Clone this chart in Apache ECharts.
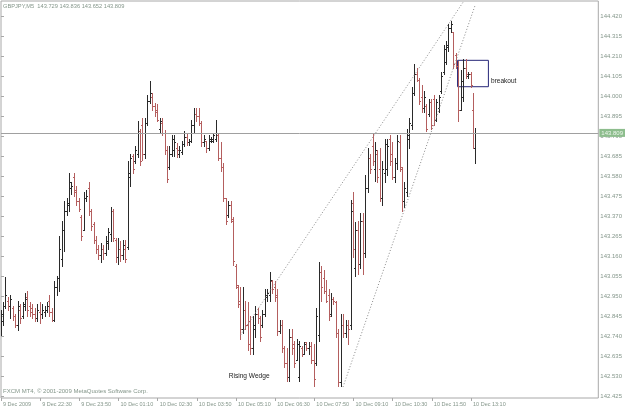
<!DOCTYPE html>
<html>
<head>
<meta charset="utf-8">
<script src="https://cdn.jsdelivr.net/npm/echarts@6/dist/echarts.min.js"></script>
<style>
html,body{margin:0;padding:0;background:#fff;}
#chart{width:625px;height:409px;}
</style>
</head>
<body>
<div id="chart"></div>
<script>
// ---- data (GBPJPY, M5) ----
const symbolTitle = "GBPJPY,M5  143.729 143.836 143.652 143.809";
const copyright = "FXCM MT4, \u00A9 2001-2009 MetaQuotes Software Corp.";
const tickLabels = ["9 Dec 2009","9 Dec 22:30","9 Dec 23:50","10 Dec 01:10","10 Dec 02:30","10 Dec 03:50","10 Dec 05:10","10 Dec 06:30","10 Dec 07:50","10 Dec 09:10","10 Dec 10:30","10 Dec 11:50","10 Dec 13:10"];
const tickIndex = [0,16,32,48,64,80,96,112,128,144,160,176,192];
const yTicks = [144.420,144.315,144.210,144.105,144.000,143.895,143.790,143.685,143.580,143.475,143.370,143.265,143.160,143.055,142.950,142.845,142.740,142.635,142.530,142.425];
const bidPrice = 143.809;

const open = [
142.77,142.82,142.90,142.93,142.90,142.89,142.85,142.80,142.88,142.85,
142.90,142.95,142.90,142.89,142.86,142.84,142.87,142.86,142.87,142.88,
142.93,142.87,142.83,143.00,143.05,143.15,143.30,143.40,143.43,143.52,
143.58,143.51,143.45,143.37,143.30,143.47,143.52,143.40,143.33,143.25,
143.20,143.17,143.20,143.18,143.23,143.28,143.40,143.25,143.16,143.20,
143.17,143.20,143.21,143.58,143.69,143.66,143.70,143.82,143.85,143.70,
143.86,143.98,144.00,143.95,143.93,143.83,143.86,143.81,143.72,143.63,
143.70,143.72,143.73,143.70,143.71,143.75,143.79,143.76,143.77,143.85,
143.91,143.90,143.86,143.76,143.77,143.73,143.77,143.77,143.78,143.80,
143.68,143.63,143.47,143.38,143.43,143.35,143.11,143.00,142.93,142.78,
142.88,142.80,142.82,142.68,142.78,142.86,142.84,142.80,142.86,142.95,
142.96,143.03,143.00,142.96,142.77,142.80,142.68,142.60,142.53,142.74,
142.70,142.62,142.53,142.68,142.65,142.71,142.68,142.69,142.62,142.60,
142.75,143.08,143.05,142.98,142.96,142.86,142.94,142.92,142.76,142.50,
142.80,142.76,142.80,142.80,143.44,143.10,143.30,143.12,143.35,143.18,
143.52,143.68,143.74,143.62,143.70,143.62,143.47,143.60,143.62,143.78,
143.70,143.58,143.65,143.76,143.62,143.45,143.50,143.78,143.85,144.02,
144.12,144.09,144.00,143.94,143.95,143.91,143.97,143.99,143.88,143.94,
144.03,144.13,144.18,144.26,144.36,144.34,144.22,144.16,143.93,144.00,
144.15,144.11,144.12,143.93,143.729];
const high = [
142.88,142.92,143.055,142.95,142.96,142.90,142.86,142.93,142.91,142.92,
142.97,142.98,142.92,142.91,142.89,142.91,142.92,142.91,142.90,142.92,
142.96,142.89,143.03,143.06,143.27,143.35,143.45,143.47,143.60,143.55,
143.60,143.53,143.47,143.38,143.50,143.51,143.55,143.41,143.34,143.27,
143.22,143.23,143.22,143.27,143.31,143.42,143.41,143.26,143.26,143.24,
143.25,143.25,143.66,143.70,143.70,143.74,143.87,143.83,143.89,143.89,
144.01,144.08,144.02,143.965,143.96,143.89,143.89,143.825,143.74,143.74,
143.80,143.80,143.755,143.74,143.765,143.82,143.81,143.78,143.88,143.94,
143.94,143.94,143.87,143.80,143.77,143.80,143.79,143.81,143.88,143.81,
143.76,143.65,143.47,143.45,143.45,143.37,143.12,143.01,143.00,143.00,
142.93,142.92,142.85,142.85,142.90,142.89,142.85,142.88,142.99,142.99,
143.08,143.04,143.03,142.99,142.83,142.83,142.69,142.68,142.78,142.78,
142.72,142.73,142.72,142.69,142.71,142.71,142.71,142.71,142.70,142.89,
143.13,143.11,143.09,143.04,142.99,142.97,142.95,142.93,142.78,142.86,
142.86,142.83,142.83,143.46,143.50,143.34,143.35,143.39,143.39,143.59,
143.73,143.70,143.81,143.76,143.72,143.73,143.66,143.78,143.78,143.80,
143.76,143.68,143.80,143.80,143.63,143.55,143.83,143.89,144.05,144.17,
144.15,144.10,144.06,144.03,143.96,143.99,143.99,144.01,143.99,144.01,
144.13,144.27,144.29,144.38,144.40,144.34,144.23,144.19,144.14,144.20,
144.20,144.13,144.13,144.02,143.836];
const low = [
142.75,142.80,142.89,142.88,142.84,142.83,142.79,142.775,142.81,142.84,
142.88,142.85,142.85,142.84,142.82,142.82,142.81,142.84,142.85,142.87,
142.85,142.82,142.82,142.96,142.98,143.11,143.19,143.38,143.40,143.49,
143.48,143.43,143.40,143.25,143.30,143.45,143.38,143.30,143.23,143.18,
143.15,143.13,143.15,143.17,143.20,143.24,143.24,143.13,143.12,143.14,
143.15,143.13,143.20,143.53,143.60,143.65,143.685,143.64,143.67,143.68,
143.85,143.965,143.93,143.90,143.87,143.81,143.80,143.70,143.55,143.62,
143.69,143.69,143.685,143.685,143.70,143.74,143.745,143.745,143.76,143.81,
143.87,143.85,143.74,143.74,143.71,143.72,143.76,143.76,143.77,143.67,
143.61,143.455,143.33,143.37,143.34,143.115,142.995,142.895,142.73,142.76,
142.78,142.67,142.65,142.65,142.74,142.81,142.72,142.79,142.85,142.93,
142.93,142.97,142.93,142.75,142.76,142.66,142.58,142.51,142.51,142.65,
142.58,142.62,142.51,142.64,142.65,142.67,142.65,142.60,142.48,142.59,
142.72,142.93,142.97,142.92,142.83,142.85,142.91,142.74,142.48,142.48,
142.74,142.74,142.70,142.78,143.16,143.06,143.07,143.10,143.07,143.16,
143.50,143.60,143.64,143.56,143.55,143.45,143.43,143.55,143.59,143.64,
143.57,143.55,143.62,143.61,143.40,143.42,143.48,143.73,143.83,144.01,
144.08,143.96,143.92,143.92,143.82,143.90,143.83,143.85,143.87,143.92,
144.02,144.12,144.17,144.24,144.34,144.15,144.15,143.87,143.93,143.98,
144.10,144.10,144.05,143.73,143.652];
const close = [
142.86,142.90,142.96,142.90,142.94,142.85,142.80,142.90,142.84,142.91,
142.94,142.88,142.87,142.86,142.84,142.88,142.86,142.88,142.88,142.90,
142.87,142.83,143.00,143.05,143.20,143.30,143.40,143.44,143.55,143.53,
143.50,143.45,143.41,143.27,143.47,143.48,143.40,143.32,143.25,143.20,
143.17,143.20,143.18,143.24,143.29,143.40,143.26,143.16,143.20,143.17,
143.22,143.15,143.60,143.68,143.62,143.72,143.82,143.66,143.70,143.86,
143.98,144.02,143.95,143.92,143.88,143.87,143.81,143.72,143.57,143.70,
143.78,143.76,143.72,143.72,143.75,143.79,143.76,143.77,143.85,143.91,
143.90,143.86,143.76,143.78,143.73,143.78,143.78,143.80,143.81,143.68,
143.63,143.47,143.35,143.43,143.36,143.14,143.01,142.91,142.78,142.88,
142.80,142.70,142.68,142.80,142.86,142.84,142.74,142.86,142.96,142.97,
143.04,142.99,142.95,142.77,142.80,142.68,142.60,142.53,142.74,142.68,
142.60,142.70,142.69,142.65,142.70,142.68,142.69,142.62,142.52,142.85,
143.08,143.00,142.98,142.93,142.85,142.94,142.93,142.76,142.50,142.80,
142.76,142.80,142.78,143.40,143.20,143.30,143.12,143.35,143.18,143.52,
143.68,143.62,143.66,143.72,143.58,143.47,143.62,143.75,143.74,143.66,
143.58,143.65,143.77,143.63,143.45,143.52,143.80,143.86,144.02,144.12,
144.09,143.98,143.94,144.00,143.83,143.97,143.85,143.88,143.97,144.00,
144.11,144.25,144.27,144.36,144.38,144.17,144.16,143.93,144.08,144.15,
144.12,144.12,144.06,143.73,143.809];

// annotations (bar index, price)
const wedgeUpper = [[97.85, 142.749], [188.7, 144.495]];
const wedgeLower = [[139.7, 142.476], [193.7, 144.481]];
const breakoutBox = [[186.5, 144.191], [199.1, 144.0525]];
const risingWedgeLabel = [93.0, 142.534];
const breakoutLabel = [200.2, 144.0825];

// ---- chart ----
const upColor = '#2a2a2a';
const downColor = '#b45e5e';
const textGray = '#84968a';

const bars = open.map((o, i) => [i, o, high[i], low[i], close[i]]);

function renderBar(params, api) {
  const i = api.value(0);
  const o = api.value(1), h = api.value(2), l = api.value(3), c = api.value(4);
  const pO = api.coord([i, o]);
  const pH = api.coord([i, h]);
  const pL = api.coord([i, l]);
  const pC = api.coord([i, c]);
  const x = Math.floor(pO[0]);
  const color = c >= o ? upColor : downColor;
  const yh = Math.round(pH[1]);
  const yl = Math.round(pL[1]);
  return {
    type: 'group',
    children: [
      {type: 'rect', shape: {x: x, y: yh, width: 1, height: Math.max(1, yl - yh + 1)}, style: {fill: color}},
      {type: 'rect', shape: {x: x - 1, y: Math.round(pO[1]), width: 1, height: 1}, style: {fill: color}},
      {type: 'rect', shape: {x: x + 1, y: Math.round(pC[1]), width: 1, height: 1}, style: {fill: color}}
    ]
  };
}

const chart = echarts.init(document.getElementById('chart'), null, {renderer: 'canvas'});
const dotted = {color: '#8a8a8a', type: [1, 2], width: 1};

chart.setOption({
  animation: false,
  backgroundColor: '#ffffff',
  textStyle: {fontFamily: 'Liberation Sans, Arial, sans-serif'},
  grid: {left: 1, right: 23, top: 1, bottom: 11, show: true, borderColor: '#a8a8a8', borderWidth: 1, backgroundColor: '#fff'},
  xAxis: {
    type: 'value', min: 0, max: 244,
    axisLine: {show: false},
    splitLine: {show: false},
    axisTick: {show: true, customValues: tickIndex, length: 3, lineStyle: {color: '#a8a8a8'}},
    axisLabel: {
      show: true, customValues: tickIndex, align: 'left', margin: 3, padding: [0, 0, 0, 2],
      fontSize: 5.5, color: textGray,
      formatter: v => tickLabels[Math.round(v / 16)] || ''
    }
  },
  yAxis: {
    type: 'value', position: 'right', min: 142.4184, max: 144.5024, scale: true,
    axisLine: {show: false},
    splitLine: {show: false},
    axisTick: {show: true, customValues: yTicks, length: 3, lineStyle: {color: '#a8a8a8'}},
    axisLabel: {show: true, customValues: yTicks, margin: 2, fontSize: 6, color: textGray, formatter: v => v.toFixed(3)}
  },
  graphic: [
    {type: 'text', left: 3, top: 3, style: {text: symbolTitle, fontSize: 5.7, fill: textGray, fontFamily: 'Liberation Sans, Arial, sans-serif'}},
    {type: 'text', left: 3, top: 388, style: {text: copyright, fontSize: 6, fill: textGray, fontFamily: 'Liberation Sans, Arial, sans-serif'}}
  ],
  series: [{
    type: 'custom',
    renderItem: renderBar,
    data: bars,
    encode: {x: 0, y: [1, 2, 3, 4]},
    clip: true,
    z: 2,
    markLine: {
      silent: true,
      symbol: ['none', 'none'],
      animation: false,
      data: [
        {yAxis: bidPrice, lineStyle: {color: '#a0a0a0', type: 'solid', width: 1},
         label: {show: true, position: 'end', formatter: bidPrice.toFixed(3), distance: 1, fontSize: 6,
                 color: '#eef6ee', backgroundColor: '#8dbd8d', padding: [1, 2, 1, 2]}},
        [{coord: wedgeUpper[0], lineStyle: dotted, label: {show: false}}, {coord: wedgeUpper[1]}],
        [{coord: wedgeLower[0], lineStyle: dotted, label: {show: false}}, {coord: wedgeLower[1]}]
      ]
    },
    markArea: {
      silent: true,
      data: [[{coord: breakoutBox[0], itemStyle: {color: 'rgba(0,0,0,0)', borderColor: '#262678', borderWidth: 1}}, {coord: breakoutBox[1]}]]
    },
    markPoint: {
      silent: true,
      symbol: 'circle', symbolSize: 0,
      data: [
        {coord: risingWedgeLabel, label: {show: true, position: 'right', distance: 0, formatter: 'Rising Wedge', color: '#222', fontSize: 6.6}},
        {coord: breakoutLabel, label: {show: true, position: 'right', distance: 0, formatter: 'breakout', color: '#222', fontSize: 6.5}}
      ]
    }
  }]
});
</script>
</body>
</html>
